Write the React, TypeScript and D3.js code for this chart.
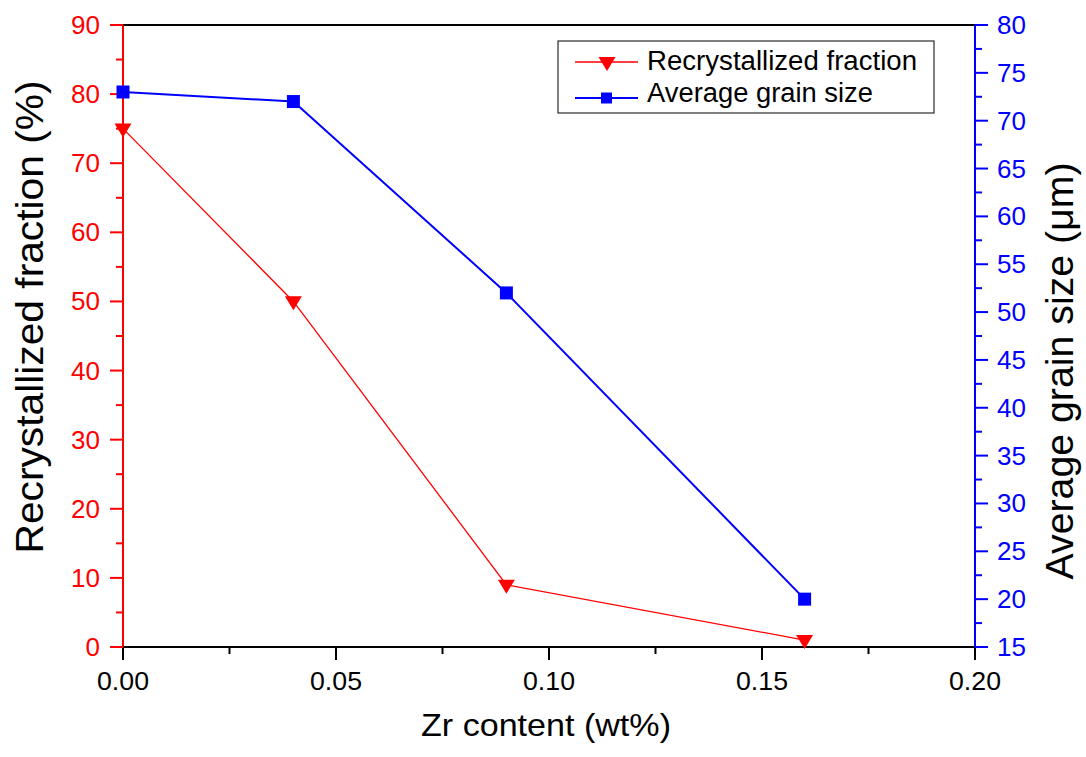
import React from "react";
import * as d3 from "d3";

const zr = [0, 0.04, 0.09, 0.16];
const recrystallized = [75, 50, 9, 1];
const grainSize = [73, 72, 52, 20];
const xTicks = [0, 0.05, 0.1, 0.15, 0.2];
const xMinor = [0.025, 0.075, 0.125, 0.175];
const leftTicks = [0, 10, 20, 30, 40, 50, 60, 70, 80, 90];
const leftMinor = [5, 15, 25, 35, 45, 55, 65, 75, 85];
const rightTicks = [15, 20, 25, 30, 35, 40, 45, 50, 55, 60, 65, 70, 75, 80];
const rightMinor = [17.5, 22.5, 27.5, 32.5, 37.5, 42.5, 47.5, 52.5, 57.5, 62.5, 67.5, 72.5, 77.5];

export default function App() {
  const W = 1086, H = 757;
  const L = 123, R = 975, T = 25, B = 647;
  const x = d3.scaleLinear().domain([0, 0.2]).range([L, R]);
  const yL = d3.scaleLinear().domain([0, 90]).range([B, T]);
  const yR = d3.scaleLinear().domain([15, 80]).range([B, T]);
  const red = "#ff0000";
  const blue = "#0000ff";
  const font = "Arial, 'Liberation Sans', sans-serif";

  const redLine = d3.line<number>().x((_, i) => x(zr[i])).y((d) => yL(d))(recrystallized) || "";
  const blueLine = d3.line<number>().x((_, i) => x(zr[i])).y((d) => yR(d))(grainSize) || "";

  const tri = (cx: number, cy: number, s = 8.5) =>
    `M${cx - s},${cy - s * 0.6}L${cx + s},${cy - s * 0.6}L${cx},${cy + s * 1.05}Z`;

  return (
    <svg width={W} height={H} style={{ position: "absolute", left: 0, top: 0, background: "#fff" }} fontFamily={font}>
      {/* top frame */}
      <line x1={L} x2={R} y1={T} y2={T} stroke="#000" strokeWidth={2} />
      {/* bottom axis */}
      <line x1={L} x2={R} y1={B} y2={B} stroke="#000" strokeWidth={2} />
      {xTicks.map((t) => (
        <g key={"xt" + t}>
          <line x1={x(t)} x2={x(t)} y1={B} y2={B + 13} stroke="#000" strokeWidth={2} />
          <text x={x(t)} y={690} fontSize={26} textAnchor="middle" fill="#000" textLength={52} lengthAdjust="spacingAndGlyphs">{t.toFixed(2)}</text>
        </g>
      ))}
      {xMinor.map((t) => (
        <line key={"xm" + t} x1={x(t)} x2={x(t)} y1={B} y2={B + 7} stroke="#000" strokeWidth={2} />
      ))}
      <text x={546} y={736} fontSize={32} textAnchor="middle" fill="#000" textLength={250} lengthAdjust="spacingAndGlyphs">Zr content (wt%)</text>

      {/* left axis */}
      <line x1={L} x2={L} y1={T} y2={B} stroke={red} strokeWidth={2} />
      {leftTicks.map((t) => (
        <g key={"lt" + t}>
          <line x1={L - 13} x2={L} y1={yL(t)} y2={yL(t)} stroke={red} strokeWidth={2} />
          <text x={100} y={yL(t) + 9} fontSize={26} textAnchor="end" fill={red}>{t}</text>
        </g>
      ))}
      {leftMinor.map((t) => (
        <line key={"lm" + t} x1={L - 7} x2={L} y1={yL(t)} y2={yL(t)} stroke={red} strokeWidth={2} />
      ))}
      <text transform={`translate(43,317) rotate(-90)`} fontSize={38} textAnchor="middle" fill="#000" textLength={473} lengthAdjust="spacingAndGlyphs">Recrystallized fraction (%)</text>

      {/* right axis */}
      <line x1={R} x2={R} y1={T} y2={B} stroke={blue} strokeWidth={2} />
      {rightTicks.map((t) => (
        <g key={"rt" + t}>
          <line x1={R} x2={R + 13} y1={yR(t)} y2={yR(t)} stroke={blue} strokeWidth={2} />
          <text x={R + 22} y={yR(t) + 9} fontSize={26} textAnchor="start" fill={blue}>{t}</text>
        </g>
      ))}
      {rightMinor.map((t) => (
        <line key={"rm" + t} x1={R} x2={R + 7} y1={yR(t)} y2={yR(t)} stroke={blue} strokeWidth={2} />
      ))}
      <text transform={`translate(1073,371) rotate(-90)`} fontSize={38} textAnchor="middle" fill="#000" textLength={417} lengthAdjust="spacingAndGlyphs">Average grain size (μm)</text>

      {/* series */}
      <path d={redLine} fill="none" stroke={red} strokeWidth={1.3} />
      <path d={blueLine} fill="none" stroke={blue} strokeWidth={2} />
      {recrystallized.map((v, i) => (
        <path key={"r" + i} d={tri(x(zr[i]), yL(v))} fill={red} />
      ))}
      {grainSize.map((v, i) => (
        <rect key={"b" + i} x={x(zr[i]) - 6.5} y={yR(v) - 6.5} width={13} height={13} fill={blue} />
      ))}

      {/* legend */}
      <rect x={558} y={41} width={376} height={72} fill="#fff" stroke="#000" strokeWidth={1} />
      <line x1={575} x2={638} y1={62} y2={62} stroke={red} strokeWidth={1.3} />
      <path d={tri(607, 62)} fill={red} />
      <text x={647} y={70} fontSize={27} fill="#000" textLength={270} lengthAdjust="spacingAndGlyphs">Recrystallized fraction</text>
      <line x1={575} x2={638} y1={98} y2={98} stroke={blue} strokeWidth={2} />
      <rect x={601} y={92.5} width={11} height={11} fill={blue} />
      <text x={647} y={102} fontSize={27} fill="#000" textLength={226} lengthAdjust="spacingAndGlyphs">Average grain size</text>
    </svg>
  );
}
